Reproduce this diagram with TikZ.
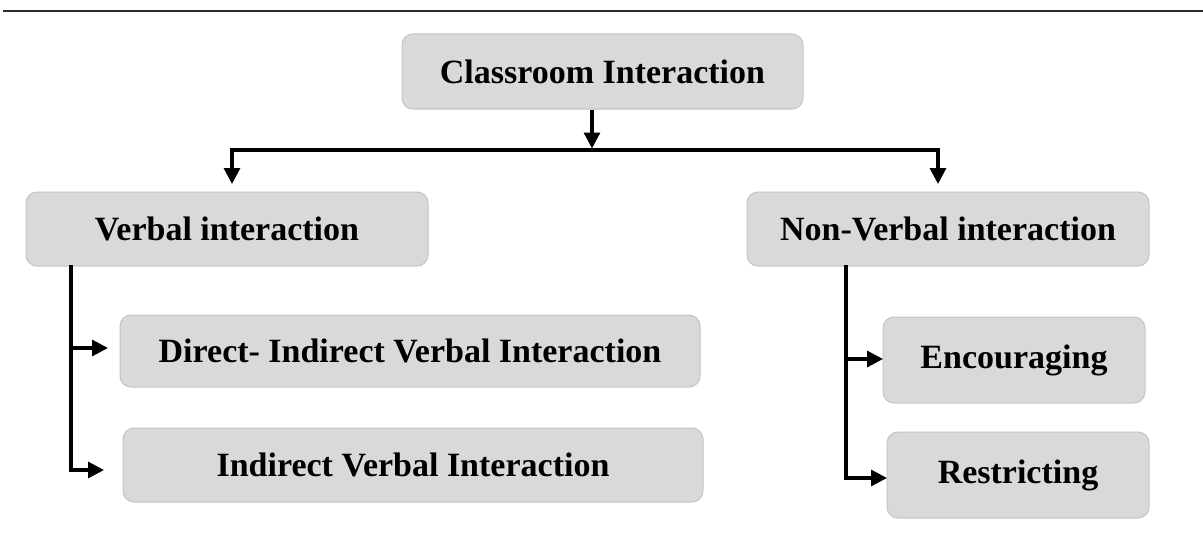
\documentclass[tikz,border=0pt]{standalone}
\usepackage{fontspec}
\setmainfont{Liberation Serif}
\usetikzlibrary{arrows.meta}
\definecolor{boxfill}{HTML}{D9D9D9}
\definecolor{boxedge}{HTML}{C4C4C4}
\definecolor{rulegray}{HTML}{2A2A2A}
\tikzset{
  box/.style={draw=boxedge, line width=1pt, fill=boxfill, rounded corners=11pt,
    inner sep=0pt, font=\fontsize{34}{39}\selectfont\bfseries},
  conn/.style={line width=3.2pt, black, line cap=rect},
  arr/.style={line width=3.2pt, black, -{Triangle[length=16pt,width=16pt]}},
}
\begin{document}
\begin{tikzpicture}[x=1pt,y=-1pt]
\useasboundingbox (0,0) rectangle (1203,551);
% rule across the top
\draw[rulegray, line width=2.6pt] (3,11) -- (1203,11);

% boxes
\node[box, minimum width=401pt, minimum height=75pt] (root) at (602.5,71.5) {Classroom Interaction};
\node[box, minimum width=402pt, minimum height=74pt] (verbal) at (227,229) {Verbal interaction};
\node[box, minimum width=402pt, minimum height=74pt] (nonverbal) at (948,229) {Non-Verbal interaction};
\node[box, minimum width=580pt, minimum height=72pt] (direct) at (410,351) {Direct- Indirect Verbal Interaction};
\node[box, minimum width=580pt, minimum height=74pt] (indirect) at (413,465) {Indirect Verbal Interaction};
\node[box, minimum width=262pt, minimum height=86pt] (encour) at (1014,360) {Encouraging};
\node[box, minimum width=262pt, minimum height=86pt] (restr) at (1018,475) {Restricting};

% junction points of the connectors
\coordinate (hub) at (592,148.5);
\coordinate (hubL) at (232,150);
\coordinate (hubR) at (938,150);
\coordinate (tipL) at (232,184);
\coordinate (tipR) at (938,184);
\coordinate (vx) at (71,0);
\coordinate (nx) at (846,0);
\coordinate (tipD) at (108,348);
\coordinate (tipI) at (104,470);
\coordinate (tipE) at (883,359);
\coordinate (tipR2) at (887,478);

% connectors
\draw[arr] (root.south -| hub) -- (hub);
\draw[conn] (hubL) -- (hubR);
\draw[arr] (hubL) -- (tipL);
\draw[arr] (hubR) -- (tipR);

\draw[conn] (verbal.south -| vx) -- (vx |- tipI);
\draw[arr] (vx |- tipD) -- (tipD);
\draw[arr] (vx |- tipI) -- (tipI);

\draw[conn] (nonverbal.south -| nx) -- (nx |- tipR2);
\draw[arr] (nx |- tipE) -- (tipE);
\draw[arr] (nx |- tipR2) -- (tipR2);
\end{tikzpicture}
\end{document}
